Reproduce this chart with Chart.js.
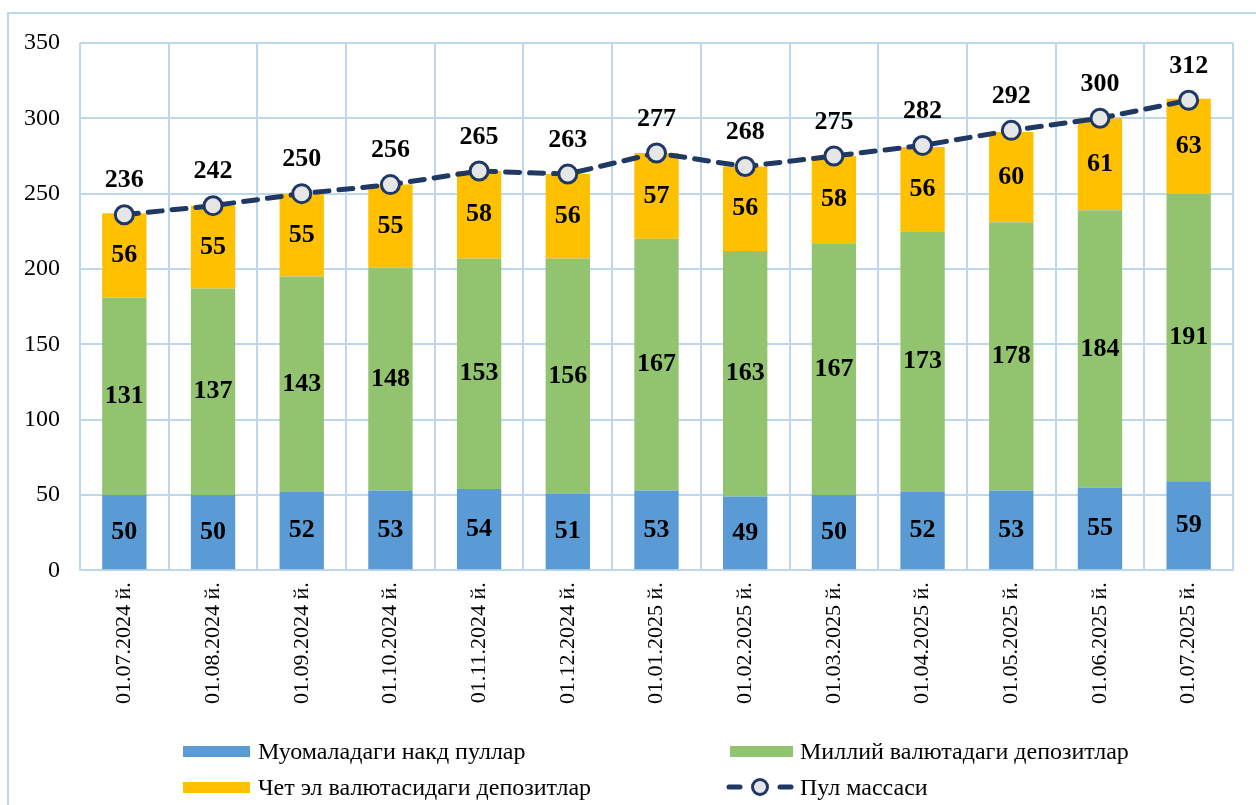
<!DOCTYPE html>
<html>
<head>
<meta charset="utf-8">
<script src="https://cdn.jsdelivr.net/npm/chart.js@4.4.1/dist/chart.umd.min.js"></script>
<style>
  body { margin: 0; background: #fff; font-family: "Liberation Serif", "Times New Roman", serif; }
  #wrap { position: relative; width: 1256px; height: 805px; overflow: hidden; }
  #frame { position: absolute; left: 7px; top: 12px; width: 1300px; height: 900px; border: 2px solid #BDD7EE; box-sizing: border-box; }
  #chartBox { position: absolute; left: 0; top: 0; width: 1256px; height: 805px; }
  .leg { position: absolute; font-size: 24px; color: #000; white-space: nowrap; line-height: 26px; }
  .sw { position: absolute; }
</style>
</head>
<body>
<div id="wrap">
  <div id="frame"></div>
  <div id="chartBox"><canvas id="dataChart"></canvas></div>
  <div class="sw" style="left:183px;top:746px;width:67px;height:11px;background:#5B9BD5"></div>
  <div class="leg" style="left:258px;top:738px">Муомаладаги накд пуллар</div>
  <div class="sw" style="left:730px;top:746px;width:63px;height:11px;background:#92C36E"></div>
  <div class="leg" style="left:800px;top:738px">Миллий валютадаги депозитлар</div>
  <div class="sw" style="left:183px;top:782px;width:67px;height:11px;background:#FFC000"></div>
  <div class="leg" style="left:258px;top:774px">Чет эл валютасидаги депозитлар</div>
  <svg class="sw" style="left:724px;top:775px" width="72" height="24">
    <line x1="5" y1="12" x2="16" y2="12" stroke="#1F3864" stroke-width="5" stroke-linecap="round"/>
    <circle cx="36" cy="12" r="7.5" fill="#E7E6E6" stroke="#1F3864" stroke-width="3"/>
    <line x1="56" y1="12" x2="67" y2="12" stroke="#1F3864" stroke-width="5" stroke-linecap="round"/>
  </svg>
  <div class="leg" style="left:800px;top:774px">Пул массаси</div>
</div>
<script>
const labels = ["01.07.2024 й.", "01.08.2024 й.", "01.09.2024 й.", "01.10.2024 й.", "01.11.2024 й.",
    "01.12.2024 й.", "01.01.2025 й.", "01.02.2025 й.", "01.03.2025 й.", "01.04.2025 й.",
    "01.05.2025 й.", "01.06.2025 й.", "01.07.2025 й."];
const cashValues = [50, 50, 52, 53, 54, 51, 53, 49, 50, 52, 53, 55, 59];
const nationalValues = [131, 137, 143, 148, 153, 156, 167, 163, 167, 173, 178, 184, 191];
const foreignValues = [56, 55, 55, 55, 58, 56, 57, 56, 58, 56, 60, 61, 63];
const totalValues = [236, 242, 250, 256, 265, 263, 277, 268, 275, 282, 292, 300, 312];
const yTicks = [0, 50, 100, 150, 200, 250, 300, 350];

const FONT = "'Liberation Serif', 'Times New Roman', serif";
const GRID = "#BDD7EE";

// draws the numbers on the segments and above the line points
const valueLabels = {
    id: "valueLabels",
    afterDatasetsDraw(chart) {
        const ctx = chart.ctx;
        ctx.save();
        ctx.font = "bold 26px " + FONT;
        ctx.fillStyle = "#000";
        ctx.textAlign = "center";
        ctx.textBaseline = "middle";
        chart.data.datasets.forEach((ds, i) => {
            const meta = chart.getDatasetMeta(i);
            meta.data.forEach((el, j) => {
                if (ds.type === "line") {
                    ctx.fillText(ds.data[j], el.x, el.y - 34);
                } else {
                    ctx.fillText(ds.data[j], el.x, (el.y + el.base) / 2);
                }
            });
        });
        ctx.restore();
    }
};

const ctx = document.getElementById("dataChart").getContext("2d");
const chart = new Chart(ctx, {
    type: "bar",
    data: {
        labels: labels,
        datasets: [
            { label: "Муомаладаги накд пуллар", data: cashValues, backgroundColor: "#5B9BD5", stack: "m", order: 1 },
            { label: "Миллий валютадаги депозитлар", data: nationalValues, backgroundColor: "#92C36E", stack: "m", order: 1 },
            { label: "Чет эл валютасидаги депозитлар", data: foreignValues, backgroundColor: "#FFC000", stack: "m", order: 1 },
            {
                type: "line",
                label: "Пул массаси",
                data: totalValues,
                stack: "total",
                order: 0,
                borderColor: "#1F3864",
                borderWidth: 5,
                borderDash: [14, 10],
                borderCapStyle: "round",
                pointRadius: 9,
                pointBorderWidth: 3,
                pointBackgroundColor: "#E7E6E6",
                pointBorderColor: "#1F3864",
                tension: 0
            }
        ]
    },
    options: {
        responsive: true,
        maintainAspectRatio: false,
        animation: false,
        layout: { padding: { left: 4, right: 23, top: 43, bottom: 89 } },
        datasets: { bar: { barPercentage: 0.5, categoryPercentage: 1 } },
        plugins: { legend: { display: false }, tooltip: { enabled: false } },
        scales: {
            x: {
                stacked: true,
                grid: { color: GRID, lineWidth: 2, drawTicks: false, offset: true },
                border: { color: GRID, width: 2 },
                ticks: { color: "#000", font: { family: FONT, size: 22 }, minRotation: 90, maxRotation: 90, padding: 12 }
            },
            y: {
                stacked: true,
                min: 0,
                max: 350,
                afterBuildTicks: axis => { axis.ticks = yTicks.map(v => ({ value: v })); },
                grid: { color: GRID, lineWidth: 2, drawTicks: false },
                border: { display: false },
                ticks: { color: "#000", font: { family: FONT, size: 24 }, padding: 20 }
            }
        }
    },
    plugins: [valueLabels]
});
</script>
</body>
</html>
